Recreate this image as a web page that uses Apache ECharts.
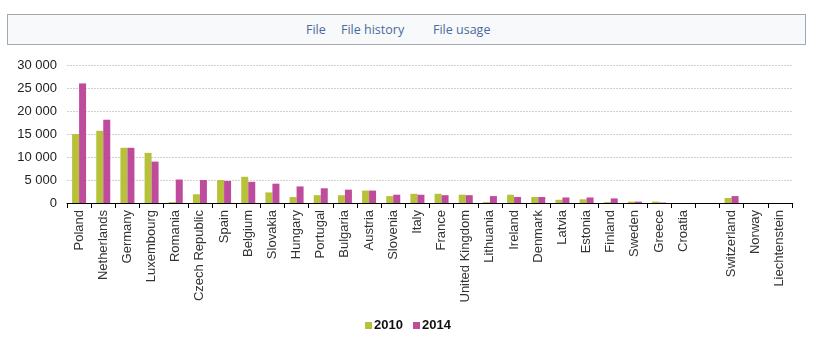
<!DOCTYPE html>
<html>
<head>
<meta charset="utf-8">
<script src="https://cdn.jsdelivr.net/npm/echarts@6/dist/echarts.min.js"></script>
<style>
  html, body { margin: 0; padding: 0; background: #fff; }
  #wrap { position: relative; width: 816px; height: 345px; overflow: hidden; }
  #tabs {
    position: absolute; left: 7px; top: 14px; width: 797px; height: 29px;
    background: #f8f9fa; border: 1px solid #a2a9b1; box-sizing: content-box;
    font-family: "Open Sans", sans-serif; font-size: 12.5px; color: #4a6a9e;
    z-index: 2;
  }
  #tabs span { position: absolute; top: 6px; white-space: nowrap; }
  #chart { position: absolute; left: 0; top: 0; width: 816px; height: 345px; }
</style>
</head>
<body>
<div id="wrap">
  <div id="tabs">
    <span style="left:298px">File</span>
    <span style="left:333px">File history</span>
    <span style="left:425px">File usage</span>
  </div>
  <div id="chart"></div>
</div>
<script>
// Countries along the category axis (blank slot separates EU from EFTA)
const countries = [
  'Poland', 'Netherlands', 'Germany', 'Luxembourg', 'Romania', 'Czech Republic',
  'Spain', 'Belgium', 'Slovakia', 'Hungary', 'Portugal', 'Bulgaria', 'Austria',
  'Slovenia', 'Italy', 'France', 'United Kingdom', 'Lithuania', 'Ireland',
  'Denmark', 'Latvia', 'Estonia', 'Finland', 'Sweden', 'Greece', 'Croatia',
  '', 'Switzerland', 'Norway', 'Liechtenstein'
];

const values2010 = [
  15000, 15700, 12000, 10900, 200, 1900,
  5000, 5700, 2300, 1300, 1700, 1700, 2700,
  1500, 2000, 2000, 1800, 200, 1800,
  1300, 700, 800, 200, 300, 300, null,
  null, 1100, null, null
];

const values2014 = [
  26000, 18100, 12000, 9000, 5100, 5000,
  4800, 4600, 4200, 3600, 3200, 2900, 2700,
  1800, 1800, 1700, 1700, 1500, 1300,
  1300, 1200, 1200, 1000, 300, 100, null,
  null, 1500, null, null
];

const yTicks = [0, 5000, 10000, 15000, 20000, 25000, 30000];

const chart = echarts.init(document.getElementById('chart'), null, { renderer: 'canvas' });

chart.setOption({
  animation: false,
  backgroundColor: '#ffffff',
  grid: { left: 67, right: 24, top: 65, bottom: 142 },
  legend: {
    data: ['2010', '2014'],
    bottom: 8,
    left: 'center',
    itemWidth: 7,
    itemHeight: 7,
    itemGap: 10,
    icon: 'rect',
    textStyle: { fontFamily: 'Liberation Sans, Arial, sans-serif', fontSize: 13, fontWeight: 'bold', color: '#111', padding: [0, 0, 0, -3] }
  },
  xAxis: {
    type: 'category',
    data: countries,
    axisLine: { show: true, lineStyle: { color: '#000', width: 1 } },
    axisTick: { show: true, length: 5, lineStyle: { color: '#000' } },
    axisLabel: {
      interval: 0,
      rotate: 90,
      margin: 7,
      fontFamily: 'Liberation Sans, Arial, sans-serif',
      fontSize: 13,
      color: '#333'
    }
  },
  yAxis: {
    type: 'value',
    min: yTicks[0],
    max: yTicks[yTicks.length - 1],
    interval: 5000,
    axisLine: { show: false },
    axisTick: { show: false },
    splitLine: { show: true, lineStyle: { color: '#d0d0d0', type: [2, 1], width: 1 } },
    axisLabel: {
      margin: 10,
      fontFamily: 'Liberation Sans, Arial, sans-serif',
      fontSize: 13,
      color: '#222',
      formatter: v => String(v).replace(/\B(?=(\d{3})+(?!\d))/g, ' ')
    }
  },
  series: [
    {
      name: '2010',
      type: 'bar',
      data: values2010,
      barWidth: 7,
      barGap: '0%',
      itemStyle: { color: '#b7c23a' }
    },
    {
      name: '2014',
      type: 'bar',
      data: values2014,
      barWidth: 7,
      barGap: '0%',
      itemStyle: { color: '#bf4b9c' }
    }
  ]
});
</script>
</body>
</html>
